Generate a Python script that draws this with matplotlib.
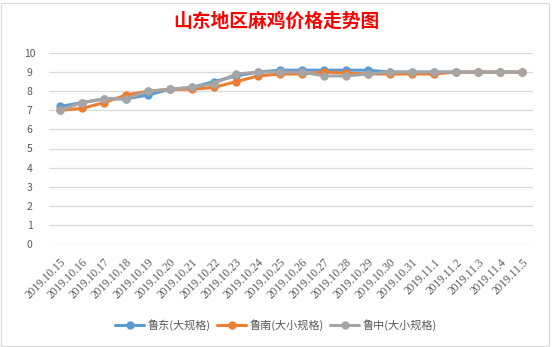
import matplotlib
matplotlib.use("Agg")
import matplotlib.pyplot as plt
from matplotlib.patches import Rectangle

plt.rcParams['font.family'] = ['Noto Sans CJK SC', 'DejaVu Sans']

dates = ["2019.10.15", "2019.10.16", "2019.10.17", "2019.10.18", "2019.10.19", "2019.10.20",
         "2019.10.21", "2019.10.22", "2019.10.23", "2019.10.24", "2019.10.25", "2019.10.26",
         "2019.10.27", "2019.10.28", "2019.10.29", "2019.10.30", "2019.10.31", "2019.11.1",
         "2019.11.2", "2019.11.3", "2019.11.4", "2019.11.5"]
ludong = [7.2, 7.4, 7.6, 7.6, 7.8, 8.1, 8.2, 8.5, 8.8, 9.0, 9.1, 9.1, 9.1, 9.1, 9.1,
          9.0, 9.0, 9.0, 9.0, 9.0, 9.0, 9.0]
lunan = [7.0, 7.1, 7.4, 7.8, 8.0, 8.1, 8.1, 8.2, 8.5, 8.8, 8.9, 8.9, 9.0, 8.95, 8.9,
         8.9, 8.9, 8.9, 9.0, 9.0, 9.0, 9.0]
luzhong = [7.0, 7.4, 7.6, 7.6, 8.0, 8.1, 8.2, 8.4, 8.9, 9.0, 9.0, 9.0, 8.8, 8.8, 8.9,
           9.0, 9.0, 9.0, 9.0, 9.0, 9.0, 9.0]
series_names = ["鲁东(大规格)", "鲁南(大小规格)", "鲁中(大小规格)"]
yticks = list(range(0, 11))

W, H = 552, 347
fig = plt.figure(figsize=(W / 100, H / 100), dpi=100)
fig.patches.append(Rectangle((0.002, 0.002), 0.993, 0.99, transform=fig.transFigure,
                             fill=False, edgecolor='#D9D9D9', lw=0.8))

ax = fig.add_axes([49 / W, 1 - 244 / H, (533 - 49) / W, (244 - 53) / H])
x = list(range(len(dates)))
colors = ['#5B9BD5', '#ED7D31', '#A5A5A5']
for vals, name, c in zip([ludong, lunan, luzhong], series_names, colors):
    ax.plot(x, vals, color=c, lw=2.2, marker='o', ms=5, label=name, solid_capstyle='round')

ax.set_xlim(-0.5, len(dates) - 0.5)
ax.set_ylim(0, 10)
ax.set_yticks(yticks)
ax.set_xticks(x)
ax.set_xticklabels(dates, rotation=45, ha='right', rotation_mode='anchor',
                   fontsize=8.3, color='#595959', family=['Liberation Serif', 'DejaVu Serif'])
ax.tick_params(axis='y', labelsize=7.5, labelcolor='#595959', length=0, pad=14)
ax.tick_params(axis='x', length=0, pad=9)
for lbl in ax.get_yticklabels():
    lbl.set_horizontalalignment('center')
ax.grid(axis='y', color='#D9D9D9', lw=0.9)
ax.set_axisbelow(True)
for s in ax.spines.values():
    s.set_visible(False)

fig.text(0.5, 1 - 21 / H, "山东地区麻鸡价格走势图", ha='center', va='center',
         color='#FF0000', fontsize=13.5, fontweight='bold')

fig.legend(loc='center', bbox_to_anchor=(0.5, 1 - 325 / H), ncol=3, frameon=False,
           fontsize=8, labelcolor='#595959', handlelength=2.6, columnspacing=0.6,
           handletextpad=0.3)

fig.savefig("out.png", dpi=100)
